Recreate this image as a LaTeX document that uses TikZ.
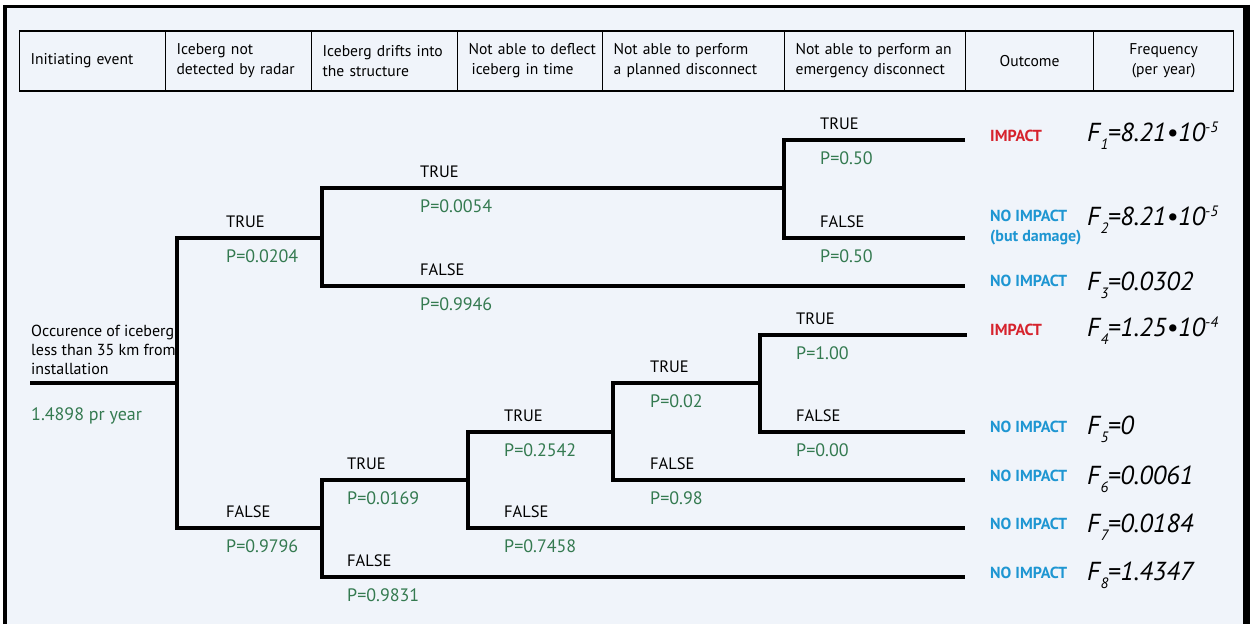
\documentclass[tikz,border=0pt]{standalone}
\usepackage{fontspec}
\setmainfont{PT Sans}
\definecolor{bg}{RGB}{240,244,250}
\definecolor{pgreen}{RGB}{52,122,80}
\definecolor{ired}{RGB}{214,35,45}
\definecolor{nblue}{RGB}{30,150,210}
\newcommand{\pw}[1]{\raisebox{9pt}{\fontsize{15}{15}\selectfont #1}}
\newcommand{\Fq}[2]{F\kern0.5pt\raisebox{-8pt}{\fontsize{15}{15}\selectfont #1}\kern-0.5pt=#2}
\begin{document}
\begin{tikzpicture}[x=1pt,y=-1pt,
  hcell/.style={draw, line width=1.2pt, minimum height=60pt, inner xsep=11pt, inner ysep=0pt,
    font=\fontsize{15.6}{20}\selectfont, anchor=west},
  br/.style={line width=3.6pt, line join=miter},
  blab/.style={anchor=base west, inner sep=0pt, font=\fontsize{16.5}{19}\selectfont},
  plab/.style={anchor=base west, inner sep=0pt, text=pgreen, font=\fontsize{18}{21}\selectfont},
  outc/.style={anchor=base west, inner sep=0pt, font=\bfseries\fontsize{16}{20}\selectfont, align=left},
  freq/.style={anchor=base west, inner sep=0pt, font=\itshape\fontsize{26}{28}\selectfont}
]
\useasboundingbox (0,0) rectangle (1250,624);
\fill[white] (0,0) rectangle (1250,624);
\fill[bg] (5,6) rectangle (1246,624);
\draw[line width=4pt] (5,624) -- (5,6.5);
\draw[line width=3.5pt] (3,6.5) -- (1250,6.5);
\draw[line width=7pt] (1246.5,4.75) -- (1246.5,624);

% header
\node[hcell, minimum width=146pt, text width=124pt, align=left] (h1) at (19,61) {Initiating event};
\node[hcell, minimum width=146pt, text width=124pt, align=left] (h2) at (165,61) {Iceberg not\\detected by radar};
\node[hcell, minimum width=146pt, text width=124pt, align=left] (h3) at (311,61) {Iceberg drifts into\\the structure};
\node[hcell, minimum width=145pt, text width=123pt, align=left] (h4) at (457,61) {\mbox{Not able to deflect}\\\mbox{\hspace*{3pt}iceberg in time}};
\node[hcell, minimum width=182pt, text width=160pt, align=left] (h5) at (602,61) {Not able to perform\\a planned disconnect};
\node[hcell, minimum width=181pt, text width=159pt, align=left] (h6) at (784,61) {Not able to perform an\\emergency disconnect};
\node[hcell, minimum width=128pt, text width=106pt, align=center] (h7) at (965,61) {Outcome};
\node[hcell, minimum width=140pt, text width=118pt, align=center] (h8) at (1093,61) {Frequency\\(per year)};

% tree coordinates
\coordinate (s) at (30,383);
\coordinate (c1) at (177,383);
\coordinate (c2) at (322,238);
\coordinate (c4) at (322,528);
\coordinate (c3) at (784,188);
\coordinate (e3) at (965,286);
\coordinate (e1) at (965,140);
\coordinate (e2) at (965,238);
\coordinate (c5) at (468,480);
\coordinate (e8) at (965,577);
\coordinate (c6) at (613,432);
\coordinate (e7) at (965,528);
\coordinate (c7) at (760,383);
\coordinate (e6) at (965,480);
\coordinate (e4) at (967,335);
\coordinate (e5) at (965,432);

\draw[br] (s) -- (c1);
\draw[br] (c2) -| (c1) |- (c4);
\draw[br] (c3) -| (c2) |- (e3);
\draw[br] (e1) -| (c3) |- (e2);
\draw[br] (c5) -| (c4) |- (e8);
\draw[br] (c6) -| (c5) |- (e7);
\draw[br] (c7) -| (c6) |- (e6);
\draw[br] (e4) -| (c7) |- (e5);

% initiating event
\node[anchor=base west, inner sep=0pt, align=left, font=\fontsize{16}{19}\selectfont] (init) at (31,374) {Occurence of iceberg\\less than 35 km from\\installation};
\node[plab] (rate) at (31,420) {1.4898 pr year};

% branch labels
\node[blab] (t1) at (226,227) {TRUE};   \node[plab] (p1t) at (226,262) {P=0.0204};
\node[blab] (f1) at (226,517) {FALSE};  \node[plab] (p1f) at (226,552) {P=0.9796};
\node[blab] (t2) at (420,177) {TRUE};   \node[plab] (p2t) at (420,212) {P=0.0054};
\node[blab] (f2) at (420,275) {FALSE};  \node[plab] (p2f) at (420,310) {P=0.9946};
\node[blab] (t3) at (820,129) {TRUE};   \node[plab] (p3t) at (820,164) {P=0.50};
\node[blab] (f3) at (820,227) {FALSE};  \node[plab] (p3f) at (820,262) {P=0.50};
\node[blab] (t4) at (347,469) {TRUE};   \node[plab] (p4t) at (347,504) {P=0.0169};
\node[blab] (f4) at (347,566) {FALSE};  \node[plab] (p4f) at (347,601) {P=0.9831};
\node[blab] (t5) at (504,421) {TRUE};   \node[plab] (p5t) at (504,456) {P=0.2542};
\node[blab] (f5) at (504,517) {FALSE};  \node[plab] (p5f) at (504,552) {P=0.7458};
\node[blab] (t6) at (650,372) {TRUE};   \node[plab] (p6t) at (650,407) {P=0.02};
\node[blab] (f6) at (650,469) {FALSE};  \node[plab] (p6f) at (650,504) {P=0.98};
\node[blab] (t7) at (796,324) {TRUE};   \node[plab] (p7t) at (796,359) {P=1.00};
\node[blab] (f7) at (796,421) {FALSE};  \node[plab] (p7f) at (796,456) {P=0.00};

% outcomes
\node[outc, text=ired] (o1) at (990,141) {IMPACT};
\node[outc, text=nblue] (o2) at (990,241) {NO IMPACT\\(but damage)};
\node[outc, text=nblue] (o3) at (990,286) {NO IMPACT};
\node[outc, text=ired] (o4) at (990,335) {IMPACT};
\node[outc, text=nblue] (o5) at (990,432) {NO IMPACT};
\node[outc, text=nblue] (o6) at (990,481) {NO IMPACT};
\node[outc, text=nblue] (o7) at (990,529) {NO IMPACT};
\node[outc, text=nblue] (o8) at (990,578) {NO IMPACT};

% frequencies
\node[freq] (fr1) at (1087,141) {\Fq{1}{8.21•10\pw{-5}}};
\node[freq] (fr2) at (1087,225) {\Fq{2}{8.21•10\pw{-5}}};
\node[freq] (fr3) at (1087,290) {\Fq{3}{0.0302}};
\node[freq] (fr4) at (1087,336) {\Fq{4}{1.25•10\pw{-4}}};
\node[freq] (fr5) at (1087,434) {\Fq{5}{0}};
\node[freq] (fr6) at (1087,484) {\Fq{6}{0.0061}};
\node[freq] (fr7) at (1087,532) {\Fq{7}{0.0184}};
\node[freq] (fr8) at (1087,580) {\Fq{8}{1.4347}};
\end{tikzpicture}
\end{document}
